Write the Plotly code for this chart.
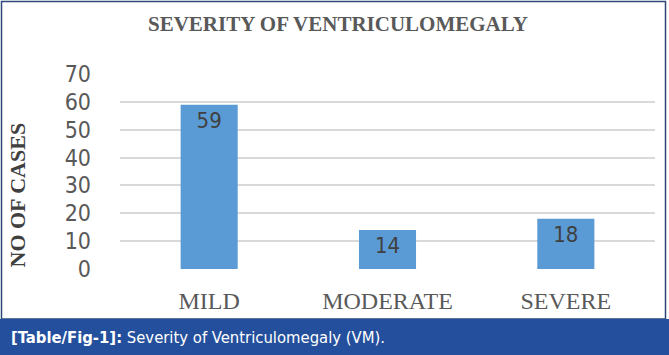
import plotly.graph_objects as go

categories = ["MILD", "MODERATE", "SEVERE"]
cases = [59, 14, 18]
labels = ["59", "14", "18"]
y_ticks = [0, 10, 20, 30, 40, 50, 60, 70]

W, H = 669, 355
L, R, T, B = 120, 14, 74, 86
pw, ph = W - L - R, H - T - B

SANS = "DejaVu Sans Condensed, Liberation Sans Narrow, sans-serif"
SERIF = "Liberation Serif, serif"

def px(x):
    return (x - L) / pw

def py(y):
    return (H - B - y) / ph

fig = go.Figure()
fig.add_trace(go.Bar(
    x=categories, y=cases, text=labels,
    marker=dict(color="#5b9bd5", line=dict(width=0)),
    textposition="inside", insidetextanchor="end",
    textfont=dict(family=SANS, size=22, color="#404040"),
    textangle=0, width=0.32, hoverinfo="skip",
))

fig.update_layout(
    width=W, height=H,
    margin=dict(l=L, r=R, t=T, b=B),
    paper_bgcolor="white", plot_bgcolor="white",
    showlegend=False,
    title=dict(text="<b>SEVERITY OF VENTRICULOMEGALY</b>", x=px(338), xanchor="center", xref="paper",
               y=1 - 23.5 / H, yanchor="middle",
               font=dict(family=SERIF, size=21, color="#595959")),
    xaxis=dict(showgrid=False, showline=False, zeroline=False, ticks="",
               tickfont=dict(family=SERIF, size=24, color="#595959"),
               ticklabelstandoff=15),
    yaxis=dict(range=[0, 70], tickvals=y_ticks, showgrid=True, gridcolor="#d9d9d9", gridwidth=1.5,
               zeroline=False, showline=False, ticks="",
               tickfont=dict(family=SANS, size=23, color="#595959"),
               ticklabelstandoff=28),
    shapes=[
        dict(type="rect", xref="paper", yref="paper", x0=px(1.5), x1=px(665.5), y0=py(1.5), y1=py(319),
             line=dict(color="#2c4a78", width=1.5), fillcolor="rgba(0,0,0,0)", layer="below"),
        dict(type="rect", xref="paper", yref="paper", x0=px(0), x1=px(W), y0=py(319), y1=py(H + 2),
             line=dict(width=0), fillcolor="#244f9c", layer="above"),
    ],
    annotations=[
        dict(text="<b>NO OF CASES</b>", xref="paper", yref="paper", x=px(16.5), y=py(195),
             xanchor="center", yanchor="middle", textangle=-90, showarrow=False,
             font=dict(family=SERIF, size=22, color="#404040")),
        dict(text="<b>[Table/Fig-1]:</b> Severity of Ventriculomegaly (VM).", xref="paper", yref="paper",
             x=px(9), y=py(337), xanchor="left", yanchor="middle", showarrow=False,
             font=dict(family=SANS, size=16.5, color="white")),
    ],
)

fig.write_html("out.html", config={"displayModeBar": False},
               post_script="document.body.style.margin='0px';document.body.style.overflow='hidden';")
